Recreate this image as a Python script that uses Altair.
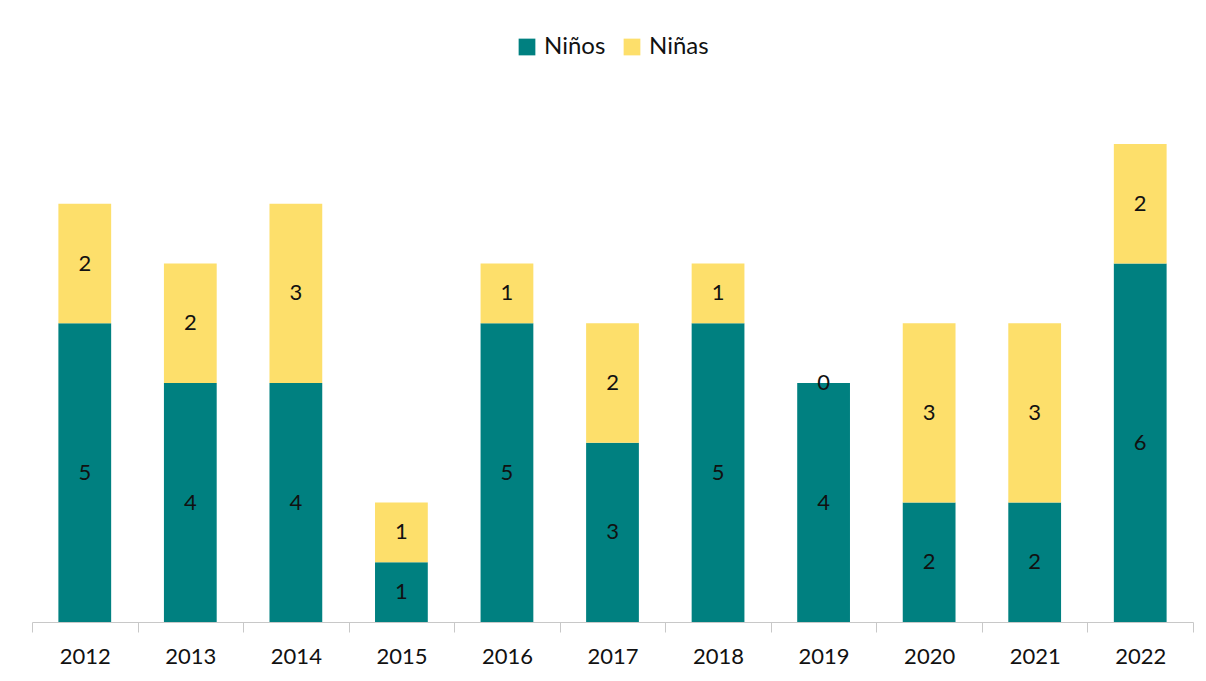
import altair as alt
import pandas as pd

years = ["2012", "2013", "2014", "2015", "2016", "2017", "2018", "2019", "2020", "2021", "2022"]
ninos = [5, 4, 4, 1, 5, 3, 5, 4, 2, 2, 6]
ninas = [2, 2, 3, 1, 1, 2, 1, 0, 3, 3, 2]
groups = ["Niños", "Niñas"]
colors = ["#008080", "#FDDF6B"]

rows = []
for i, y in enumerate(years):
    rows.append({"year": y, "group": "Niños", "value": ninos[i], "ord": 0})
    rows.append({"year": y, "group": "Niñas", "value": ninas[i], "ord": 1})
df = pd.DataFrame(rows)

FONT = "Lato"

base = alt.Chart(df).transform_stack(
    stack="value", groupby=["year"], as_=["y0", "y1"],
    sort=[alt.SortField("ord", order="ascending")]
).transform_calculate(mid="(datum.y0 + datum.y1) / 2")

xenc = alt.X("year:N", sort=years, title=None,
             scale=alt.Scale(paddingInner=0, paddingOuter=0),
             axis=alt.Axis(labelAngle=0, labelFont=FONT, labelFontSize=22, labelColor="#111",
                           domainColor="#C8C8C8", tickColor="#C8C8C8", tickSize=10,
                           tickBand="extent", labelPadding=14, grid=False))

bars = base.mark_bar(width=alt.RelativeBandSize(0.5)).encode(
    x=xenc,
    y=alt.Y("y0:Q", scale=alt.Scale(domain=[0, 8]), axis=None),
    y2="y1:Q",
    color=alt.Color("group:N", sort=groups,
                    scale=alt.Scale(domain=groups, range=colors),
                    legend=alt.Legend(title=None, orient="none", direction="horizontal",
                                      legendX=483, legendY=-109,
                                      symbolType="square", symbolSize=280,
                                      symbolStrokeWidth=0,
                                      labelFont=FONT, labelFontSize=24, labelColor="#111",
                                      columnPadding=14, symbolOffset=0, labelOffset=5)),
)

labels = base.mark_text(font=FONT, fontSize=22, color="#111", baseline="middle").encode(
    x=alt.X("year:N", sort=years),
    y=alt.Y("mid:Q"),
    text=alt.Text("value:Q"),
)

chart = alt.layer(bars, labels).properties(
    width=1161, height=478,
    padding={"left": 24, "top": 136, "right": 5, "bottom": 60},
    autosize=alt.AutoSizeParams(type="none"),
).configure(background="white").configure_view(strokeWidth=0, stroke=None)

chart.save("out.html", embed_options={"renderer": "svg", "actions": False})
